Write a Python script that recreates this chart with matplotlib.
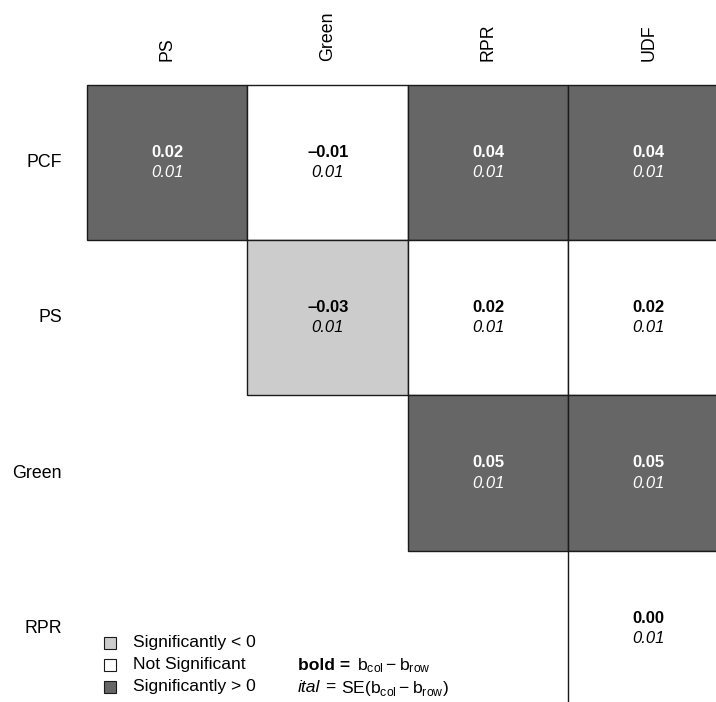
import matplotlib.pyplot as plt
from matplotlib.patches import Rectangle

plt.rcParams['font.family'] = ['Liberation Sans', 'DejaVu Sans']
plt.rcParams['mathtext.fontset'] = 'custom'
plt.rcParams['mathtext.rm'] = 'Liberation Sans'
plt.rcParams['mathtext.it'] = 'Liberation Sans:italic'
plt.rcParams['mathtext.bf'] = 'Liberation Sans:bold'

rows = ['PCF', 'PS', 'Green', 'RPR']
cols = ['PS', 'Green', 'RPR', 'UDF']
# b_col - b_row, None = empty cell
diff = [[0.02, -0.01, 0.04, 0.04],
        [None, -0.03, 0.02, 0.02],
        [None, None, 0.05, 0.05],
        [None, None, None, 0.00]]
se = [[0.01, 0.01, 0.01, 0.01],
      [None, 0.01, 0.01, 0.01],
      [None, None, 0.01, 0.01],
      [None, None, None, 0.01]]
# 1 = significantly > 0, 0 = not significant, -1 = significantly < 0
sig = [[1, 0, 1, 1],
       [None, -1, 0, 0],
       [None, None, 1, 1],
       [None, None, None, 0]]
legend_labels = ['Significantly < 0', 'Not Significant', 'Significantly > 0']
legend_keys = [-1, 0, 1]

fills = {1: '#666666', 0: 'white', -1: '#cccccc'}
txtcol = {1: 'white', 0: 'black', -1: 'black'}
edge = '#1a1a1a'

W, H = 716, 702
fig = plt.figure(figsize=(W / 100, H / 100), dpi=100)
ax = fig.add_axes([0, 0, 1, 1])
cw, ch = 160.5, 155.2
x0, y0 = 87, 85
ax.set_xlim(-x0 / cw, (W - x0) / cw)
ax.set_ylim((H - y0) / ch, -y0 / ch)
ax.axis('off')

for i in range(len(rows)):
    for j in range(len(cols)):
        if diff[i][j] is None:
            continue
        s = sig[i][j]
        ax.add_patch(Rectangle((j, i), 1, 1, facecolor=fills[s],
                               edgecolor=edge, linewidth=1))
        d = diff[i][j]
        lab = f'{d:.2f}'.replace('-', '\u2013')
        if d == 0:
            lab = '0.00'
        ax.text(j + 0.5, i + 0.5 - 0.065, lab, ha='center', va='center',
                fontsize=12, fontweight='bold', color=txtcol[s])
        ax.text(j + 0.5, i + 0.5 + 0.065, f'{se[i][j]:.2f}', ha='center',
                va='center', fontsize=12, fontstyle='italic', color=txtcol[s])

for j, c in enumerate(cols):
    ax.text(j + 0.5, -24 / ch, c, rotation=90, ha='center', va='bottom',
            fontsize=12.8)
for i, r in enumerate(rows):
    ax.text(-25 / cw, i + 0.5, r, ha='right', va='center', fontsize=12.8)

# legend in pixel coords
def fx(x):
    return x / W

def fy(y):
    return 1 - y / H

ys = [643, 665, 687]
for k, lab, y in zip(legend_keys, legend_labels, ys):
    fig.patches.append(Rectangle((fx(104), fy(y + 6)), 12 / W, 12 / H,
                                 transform=fig.transFigure,
                                 facecolor=fills[k], edgecolor=edge,
                                 linewidth=0.8))
    fig.text(fx(133), fy(y), lab, ha='left', va='center', fontsize=12.6)

fig.text(fx(298), fy(665), 'bold =', ha='left', va='center', fontsize=12.6,
         fontweight='bold')
fig.text(fx(357), fy(666), r'$\mathrm{b_{col}-b_{row}}$', ha='left',
         va='center', fontsize=12.6)
fig.text(fx(298), fy(687), 'ital', ha='left', va='center', fontsize=12.6,
         fontstyle='italic')
fig.text(fx(325), fy(687), '=', ha='left', va='center', fontsize=12.6)
fig.text(fx(341), fy(688), r'$\mathrm{SE}\left(\mathrm{b_{col}-b_{row}}\right)$',
         ha='left', va='center', fontsize=12.6)

fig.savefig('out.png', dpi=100)
